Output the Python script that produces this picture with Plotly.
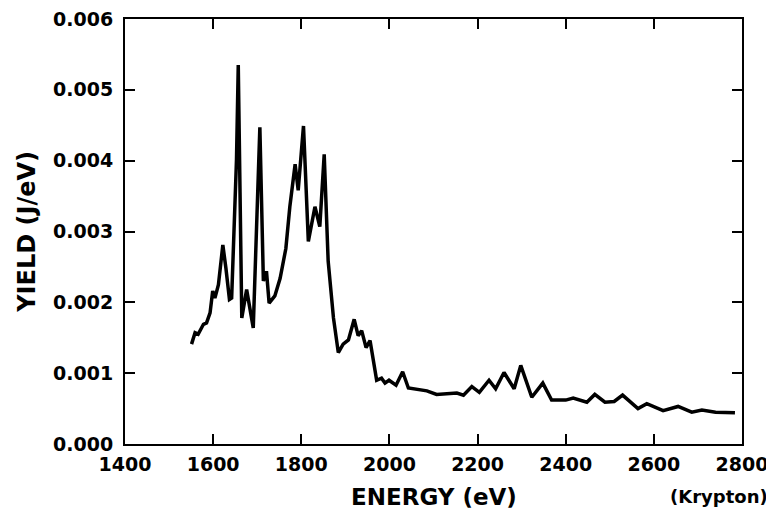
import plotly.graph_objects as go

energy = [1551, 1559, 1566, 1578, 1585, 1593, 1599, 1604, 1612, 1622, 1629, 1637, 1642,
          1650, 1653, 1657, 1661, 1665, 1676, 1691, 1706, 1714, 1721, 1727, 1740, 1752,
          1765, 1774, 1786, 1793, 1805, 1816, 1831, 1842, 1852, 1861, 1873, 1884, 1895,
          1907, 1920, 1929, 1937, 1947, 1956, 1971, 1982, 1990, 1999, 2015, 2030, 2043,
          2085, 2107, 2153, 2168, 2187, 2204, 2226, 2241, 2260, 2283, 2298, 2323, 2348,
          2368, 2400, 2417, 2448, 2466, 2489, 2510, 2529, 2564, 2584, 2621, 2655, 2686,
          2709, 2740, 2784]
yield_jev = [0.00141, 0.00157, 0.00155, 0.00169, 0.00171, 0.00185, 0.00216, 0.00206,
             0.00225, 0.00281, 0.00248, 0.00204, 0.00206, 0.00365, 0.00402, 0.00535,
             0.00388, 0.00178, 0.00218, 0.00164, 0.00447, 0.00230, 0.00244, 0.00199,
             0.00209, 0.00234, 0.00276, 0.00335, 0.00395, 0.00358, 0.00449, 0.00286,
             0.00335, 0.00307, 0.00409, 0.00258, 0.00178, 0.00129, 0.00141, 0.00147,
             0.00176, 0.00153, 0.00160, 0.00136, 0.00146, 0.00090, 0.00093, 0.00086,
             0.00090, 0.00083, 0.00102, 0.00079, 0.00075, 0.00070, 0.00072, 0.00069,
             0.00081, 0.00073, 0.00090, 0.00078, 0.00101, 0.00078, 0.00111, 0.00066,
             0.00086, 0.00062, 0.00062, 0.00065, 0.00059, 0.00070, 0.00059, 0.00060,
             0.00069, 0.00050, 0.00057, 0.00047, 0.00053, 0.00045, 0.00048, 0.00045,
             0.00044]

x_ticks = [1400, 1600, 1800, 2000, 2200, 2400, 2600, 2800]
y_ticks = [0.000, 0.001, 0.002, 0.003, 0.004, 0.005, 0.006]

FONT = "DejaVu Sans, Liberation Sans, Arial, sans-serif"

fig = go.Figure()
fig.add_trace(go.Scatter(x=energy, y=yield_jev, mode="lines",
                         line=dict(color="black", width=3.5), showlegend=False))

axis_common = dict(showline=True, linecolor="black", linewidth=2, mirror="ticks",
                   ticks="inside", ticklen=10, tickwidth=2, tickcolor="black",
                   showgrid=False, zeroline=False, automargin=False,
                   ticklabeloverflow="allow",
                   tickfont=dict(family=FONT, size=19, color="black", weight="bold"))

fig.update_xaxes(range=[1400, 2800], tickvals=x_ticks, ticklabelstandoff=2, **axis_common)
fig.update_yaxes(range=[0, 0.006], tickvals=y_ticks, tickformat=".3f", ticklabelstandoff=6,
                 **axis_common)

fig.add_annotation(text="ENERGY (eV)", xref="paper", yref="paper", x=0.5, y=-0.124,
                   xanchor="center", yanchor="middle", showarrow=False,
                   font=dict(family=FONT, size=23, color="black", weight="bold"))
fig.add_annotation(text="YIELD (J/eV)", xref="paper", yref="paper", x=-0.16, y=0.5,
                   xanchor="center", yanchor="middle", showarrow=False, textangle=-90,
                   font=dict(family=FONT, size=24, color="black", weight="bold"))
fig.add_annotation(text="(Krypton)", xref="paper", yref="paper", x=1.046, y=-0.124,
                   xanchor="right", yanchor="middle", showarrow=False,
                   font=dict(family=FONT, size=18, color="black", weight="bold"))

fig.update_layout(width=766, height=511, margin=dict(l=117, r=32, t=11, b=75),
                  paper_bgcolor="white", plot_bgcolor="white")

fig.write_html("out.html")
